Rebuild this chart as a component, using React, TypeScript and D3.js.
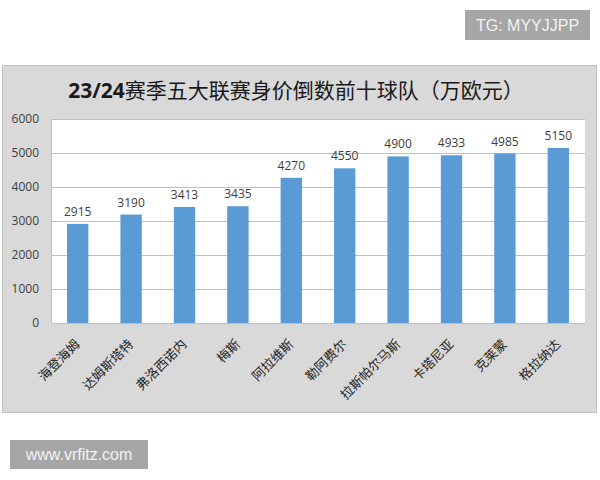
import React from "react";
import * as d3 from "d3";

const teams = ["海登海姆", "达姆斯塔特", "弗洛西诺内", "梅斯", "阿拉维斯", "勒阿费尔", "拉斯帕尔马斯", "卡塔尼亚", "克莱蒙", "格拉纳达"];
const values = [2915, 3190, 3413, 3435, 4270, 4550, 4900, 4933, 4985, 5150];
const yTicks = [0, 1000, 2000, 3000, 4000, 5000, 6000];
const titleNum = "23/24";
const titleText = "赛季五大联赛身价倒数前十球队（万欧元）";

export default function App() {
  const plotLeft = 51, plotRight = 585, plotTop = 119, plotBottom = 323;
  const x = d3.scaleBand<string>().domain(teams).range([plotLeft, plotRight]).paddingInner(0.6).paddingOuter(0.3);
  const y = d3.scaleLinear().domain([0, 6000]).range([plotBottom, plotTop]);
  const cjk = "'Noto Sans CJK SC', 'Noto Sans', sans-serif";
  const num = "'Open Sans', 'Liberation Sans', sans-serif";
  return (
    <svg width={600} height={480} style={{ position: "absolute", left: 0, top: 0, background: "#fff" }}>
      <rect x={0} y={0} width={600} height={480} fill="#fff" />
      {/* chart box */}
      <rect x={2.5} y={65.5} width={594} height={347} fill="#d9d9d9" stroke="#c3c3c3" strokeWidth={1} />
      {/* title */}
      <text x={296} y={98} textAnchor="middle" fill="#1a1a1a" fontSize={21} fontFamily={cjk}>
        <tspan fontWeight="bold" fontFamily={num}>{titleNum}</tspan>
        <tspan>{titleText}</tspan>
      </text>
      {/* plot area */}
      <rect x={plotLeft} y={plotTop} width={plotRight - plotLeft} height={plotBottom - plotTop} fill="#fff" />
      {yTicks.map((t) => (
        <g key={t}>
          <line x1={plotLeft} x2={plotRight} y1={Math.round(y(t)) + 0.5} y2={Math.round(y(t)) + 0.5} stroke="#bfbfbf" strokeWidth={1} />
          <text x={39} y={y(t)} dy="0.35em" textAnchor="end" fontSize={12} fill="#404040" fontFamily={num}>{t}</text>
        </g>
      ))}
      <line x1={plotLeft + 0.5} x2={plotLeft + 0.5} y1={plotTop} y2={plotBottom} stroke="#bfbfbf" strokeWidth={1} />
      {teams.map((t, i) => (
        <g key={t}>
          <rect x={x(t)} y={y(values[i])} width={x.bandwidth()} height={y(0) - y(values[i])} fill="#5b9bd5" />
          <text x={x(t)! + x.bandwidth() / 2} y={y(values[i]) - 8} textAnchor="middle" fontSize={12} fill="#404040" fontFamily={num}>{values[i]}</text>
          <text
            transform={`translate(${x(t)! + x.bandwidth() / 2 + 3},${plotBottom + 22}) rotate(-45)`}
            textAnchor="end"
            fontSize={13}
            fill="#262626"
            fontFamily={cjk}
          >{t}</text>
        </g>
      ))}
      {/* watermarks */}
      <rect x={465} y={10} width={125} height={30} fill="#a6a6a6" />
      <text x={527.5} y={25} dy="0.35em" textAnchor="middle" fontSize={16} fill="#f2f2f2" fontFamily="'Liberation Sans', Arial, sans-serif">TG: MYYJJPP</text>
      <rect x={10} y={440} width={138} height={29} fill="#a6a6a6" />
      <text x={79} y={454.5} dy="0.35em" textAnchor="middle" fontSize={16} fill="#f2f2f2" fontFamily="'Liberation Sans', Arial, sans-serif">www.vrfitz.com</text>
    </svg>
  );
}
